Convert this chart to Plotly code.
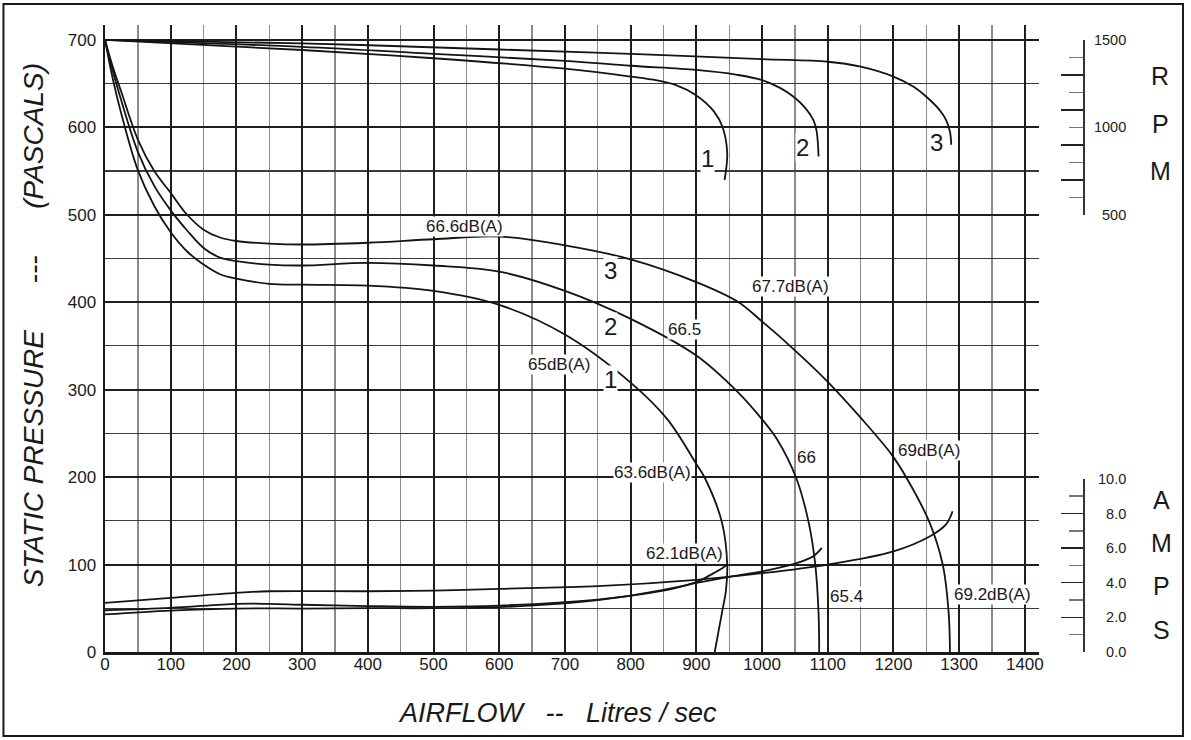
import plotly.graph_objects as go

# ---------------- data ----------------
# static pressure curves (Pa) for fan speeds 1, 2, 3
p1_airflow = [0, 12, 25, 50, 75, 100, 125, 150, 175, 200, 250, 300, 400, 500, 600, 700, 800, 856, 900, 913, 939, 947, 945, 939, 928]
p1_pressure = [700, 655, 615, 551, 510, 480, 458, 443, 432, 427, 421, 420, 419, 413, 397, 363, 308, 266, 215, 199, 148, 100, 70, 45, 0]

p2_airflow = [0, 12, 25, 50, 75, 100, 125, 150, 175, 200, 250, 300, 400, 500, 600, 700, 800, 900, 962, 1000, 1023, 1052, 1071, 1081, 1086, 1087]
p2_pressure = [700, 664, 630, 572, 533, 505, 482, 462, 451, 447, 443, 442, 445, 442, 435, 413, 381, 339, 298, 266, 243, 199, 148, 100, 45, 0]

p3_airflow = [0, 12, 25, 50, 75, 100, 125, 150, 175, 200, 250, 300, 400, 500, 600, 700, 800, 900, 962, 1000, 1050, 1100, 1150, 1197, 1220, 1255, 1275, 1284, 1286]
p3_pressure = [700, 669, 640, 586, 550, 525, 500, 483, 474, 470, 467, 466, 468, 472, 475, 465, 449, 423, 401, 378, 345, 309, 268, 226, 199, 148, 100, 45, 0]

# fan speed curves (RPM)
r1_airflow = [0, 300, 500, 700, 800, 840, 870, 899, 927, 940, 947, 943]
r1_rpm = [1500, 1442, 1395, 1335, 1290, 1268, 1240, 1185, 1090, 1000, 852, 700]

r2_airflow = [0, 300, 500, 700, 800, 900, 962, 1000, 1028, 1048, 1066, 1078, 1083, 1086]
r2_rpm = [1500, 1460, 1420, 1380, 1352, 1328, 1300, 1270, 1224, 1175, 1110, 1043, 980, 833]

r3_airflow = [0, 300, 600, 800, 1000, 1100, 1150, 1200, 1230, 1250, 1270, 1280, 1286, 1288]
r3_rpm = [1500, 1480, 1445, 1420, 1390, 1375, 1347, 1290, 1233, 1175, 1100, 1043, 975, 900]

# current curves (A)
a1_airflow = [0, 100, 200, 300, 400, 500, 600, 750, 850, 900, 927, 940, 947]
a1_amps = [2.17, 2.39, 2.51, 2.51, 2.53, 2.53, 2.59, 3.0, 3.59, 4.04, 4.57, 4.85, 5.05]

a2_airflow = [0, 100, 200, 250, 300, 400, 500, 600, 750, 850, 900, 950, 1000, 1050, 1078, 1091]
a2_amps = [2.41, 2.55, 2.78, 2.78, 2.73, 2.65, 2.61, 2.68, 3.03, 3.54, 3.99, 4.34, 4.65, 5.10, 5.53, 6.01]

a3_airflow = [0, 100, 200, 250, 400, 500, 600, 750, 900, 1000, 1100, 1200, 1255, 1280, 1290]
a3_amps = [2.84, 3.13, 3.42, 3.51, 3.51, 3.55, 3.65, 3.81, 4.17, 4.55, 5.05, 5.81, 6.67, 7.37, 8.13]

# noise / speed labels placed along the pressure curves: (text, airflow, pressure)
noise_labels = [
    ("66.6dB(A)", 547, 487), ("67.7dB(A)", 1044, 418), ("69dB(A)", 1254, 231),
    ("69.2dB(A)", 1350, 66), ("65dB(A)", 691, 329), ("66.5", 882, 369),
    ("66", 1068, 222), ("65.4", 1128, 63), ("63.6dB(A)", 833, 205),
    ("62.1dB(A)", 882, 113),
]
speed_labels_pressure = [("3", 770, 436), ("2", 770, 372), ("1", 770, 312)]
speed_labels_rpm = [("1", 917, 820), ("2", 1061, 885), ("3", 1265, 915)]

rpm_major = [500, 700, 900, 1100, 1300, 1500]
rpm_minor = [600, 800, 1000, 1200, 1400]
rpm_labels = [500, 1000, 1500]
amp_major = [0, 2, 4, 6, 8, 10]
amp_minor = [1, 3, 5, 7, 9]
amp_labels = ["0.0", "2.0", "4.0", "6.0", "8.0", "10.0"]

# ---------------- layout geometry ----------------
FONT = "Liberation Sans, Arial, sans-serif"
W, H = 1191, 740
ML, MR, MT, MB = 105, 5, 25, 88
PW = W - ML - MR
PH = H - MT - MB
X_MAX, Y_MAX = 1421, 717          # grid runs a little past the labelled range
PA_PER_AMP = 19.8                 # 10 A spans 0..198 Pa on the grid
RPM_LO_PA, RPM_HI_PA = 500, 700   # RPM scale 500..1500 sits on 500..700 Pa


def fx(px):
    return (px - ML) / PW


def fy(py):
    return (H - MB - py) / PH


LINE = dict(color="#141414", width=1.8, shape="spline", smoothing=1.0)

fig = go.Figure()
for xs, ys in [(p1_airflow, p1_pressure), (p2_airflow, p2_pressure), (p3_airflow, p3_pressure)]:
    fig.add_trace(go.Scatter(x=xs, y=ys, mode="lines", line=LINE, showlegend=False, hoverinfo="skip"))
for xs, ys in [(r1_airflow, r1_rpm), (r2_airflow, r2_rpm), (r3_airflow, r3_rpm)]:
    fig.add_trace(go.Scatter(x=xs, y=ys, mode="lines", line=LINE, yaxis="y2", showlegend=False, hoverinfo="skip"))
for xs, ys in [(a1_airflow, a1_amps), (a2_airflow, a2_amps), (a3_airflow, a3_amps)]:
    fig.add_trace(go.Scatter(x=xs, y=ys, mode="lines", line=LINE, yaxis="y3", showlegend=False, hoverinfo="skip"))
# empty traces so the side scales (RPM / AMPS) get drawn
for ax in ["y4", "y5", "y6", "y7"]:
    fig.add_trace(go.Scatter(x=[], y=[], xaxis="x2", yaxis=ax, mode="lines", showlegend=False, hoverinfo="skip"))

# RPM scale mapping onto the pressure grid: rpm = 500 + 5*(Pa-500)
rpm_range = [500 + 5 * (0 - RPM_LO_PA), 500 + 5 * (Y_MAX - RPM_LO_PA)]
amp_range = [0, Y_MAX / PA_PER_AMP]

x_dom_end = 938 / PW
rpm_axis_pos = fx(1088)
label_pos = fx(1131)

annotations = []
for t, x, y in noise_labels:
    annotations.append(dict(text=t, x=x, y=y, xref="x", yref="y", showarrow=False,
                            xanchor="center", yanchor="middle",
                            font=dict(family=FONT, size=17, color="#1a1a1a"),
                            bgcolor="white", borderpad=0))
for t, x, y in speed_labels_pressure:
    annotations.append(dict(text=t, x=x, y=y, xref="x", yref="y", showarrow=False,
                            xanchor="center", yanchor="middle",
                            font=dict(family=FONT, size=24, color="#1a1a1a"),
                            bgcolor="white", borderpad=0))
for t, x, y in speed_labels_rpm:
    annotations.append(dict(text=t, x=x, y=y, xref="x", yref="y2", showarrow=False,
                            xanchor="center", yanchor="middle",
                            font=dict(family=FONT, size=24, color="#1a1a1a"),
                            bgcolor="white", borderpad=0))

for ch, py in zip("RPM", [76, 124.5, 171]):
    annotations.append(dict(text=ch, x=fx(1165), y=fy(py), xref="paper", yref="paper", showarrow=False,
                            xanchor="center", yanchor="middle",
                            font=dict(family=FONT, size=25, color="#1a1a1a")))
for ch, py in zip("AMPS", [499.5, 542.5, 585.5, 629.5]):
    annotations.append(dict(text=ch, x=fx(1166), y=fy(py), xref="paper", yref="paper", showarrow=False,
                            xanchor="center", yanchor="middle",
                            font=dict(family=FONT, size=25, color="#1a1a1a")))

NB = "\u00a0"
annotations.append(dict(text="<i>AIRFLOW" + NB * 3 + "--" + NB * 3 + "Litres / sec</i>",
                        x=fx(560), y=fy(713), xref="paper", yref="paper", showarrow=False,
                        xanchor="center", yanchor="middle",
                        font=dict(family=FONT, size=27, color="#1a1a1a")))
annotations.append(dict(text="<i>STATIC PRESSURE" + NB * 6 + "---" + NB * 6 + "(PASCALS)</i>",
                        x=fx(33), y=fy(325), xref="paper", yref="paper", showarrow=False,
                        xanchor="center", yanchor="middle",
                        textangle=-90, font=dict(family=FONT, size=28, color="#1a1a1a")))

fig.update_layout(
    width=W, height=H,
    margin=dict(l=ML, r=MR, t=MT, b=MB),
    paper_bgcolor="white", plot_bgcolor="white",
    showlegend=False,
    font=dict(family=FONT, color="#1a1a1a"),
    xaxis=dict(
        domain=[0, x_dom_end], range=[0, X_MAX], tick0=0, dtick=100,
        showgrid=True, gridcolor="#1e1e1e", gridwidth=2,
        minor=dict(dtick=50, tick0=0, showgrid=True, gridcolor="#8c8c8c", gridwidth=1.3),
        showline=True, linecolor="#1a1a1a", linewidth=2.5, zeroline=False,
        ticks="", ticklabelstandoff=-5, tickfont=dict(family=FONT, size=17, color="#1a1a1a"),
        fixedrange=True,
    ),
    yaxis=dict(
        domain=[0, 1], range=[0, Y_MAX], tickmode="linear", tick0=100, dtick=100,
        showgrid=True, gridcolor="#1e1e1e", gridwidth=2,
        minor=dict(dtick=50, tick0=0, showgrid=True, gridcolor="#3a3a3a", gridwidth=1.1),
        showline=True, linecolor="#1a1a1a", linewidth=2.5, zeroline=False,
        ticks="", ticklabelstandoff=3, tickfont=dict(family=FONT, size=17, color="#1a1a1a"),
        fixedrange=True,
    ),
    yaxis2=dict(overlaying="y", range=rpm_range, visible=False, fixedrange=True),
    yaxis3=dict(overlaying="y", range=amp_range, visible=False, fixedrange=True),
    xaxis2=dict(domain=[x_dom_end + 0.005, rpm_axis_pos], anchor="y4", visible=False, range=[0, 1], fixedrange=True),
    yaxis4=dict(
        domain=[RPM_LO_PA / Y_MAX, RPM_HI_PA / Y_MAX], range=[500, 1500], anchor="x2", side="right",
        tickmode="array", tickvals=rpm_major, ticks="inside", ticklen=22, tickwidth=1.5, tickcolor="#222",
        minor=dict(tickmode="array", tickvals=rpm_minor, ticks="inside", ticklen=14, tickwidth=1.5, tickcolor="#777"),
        showticklabels=False, showline=True, linecolor="#333", linewidth=1.5,
        showgrid=False, zeroline=False, fixedrange=True,
    ),
    yaxis5=dict(
        overlaying="y4", anchor="free", position=label_pos, side="left", range=[500, 1500],
        tickmode="array", tickvals=rpm_labels, ticks="", showline=False, showgrid=False, zeroline=False,
        tickfont=dict(family=FONT, size=14.5, color="#222"), fixedrange=True,
    ),
    yaxis6=dict(
        domain=[0, 10 * PA_PER_AMP / Y_MAX], range=[0, 10], anchor="x2", side="right",
        tickmode="array", tickvals=amp_major, ticks="inside", ticklen=22, tickwidth=1.5, tickcolor="#222",
        minor=dict(tickmode="array", tickvals=amp_minor, ticks="inside", ticklen=14, tickwidth=1.5, tickcolor="#777"),
        showticklabels=False, showline=True, linecolor="#333", linewidth=1.5,
        showgrid=False, zeroline=False, fixedrange=True,
    ),
    yaxis7=dict(
        overlaying="y6", anchor="free", position=label_pos, side="left", range=[0, 10],
        tickmode="array", tickvals=amp_major, ticktext=amp_labels, ticks="", showline=False,
        showgrid=False, zeroline=False, tickfont=dict(family=FONT, size=14.5, color="#222"), fixedrange=True,
    ),
    annotations=annotations,
    shapes=[dict(type="rect", xref="paper", yref="paper",
                 x0=fx(3), x1=fx(1188), y0=fy(736), y1=fy(4),
                 line=dict(color="#1a1a1a", width=2), fillcolor="rgba(0,0,0,0)", layer="above")],
)

fig.write_html("out.html", config={"displayModeBar": False, "staticPlot": True},
               post_script="document.body.style.margin='0';document.body.style.overflow='hidden';")
